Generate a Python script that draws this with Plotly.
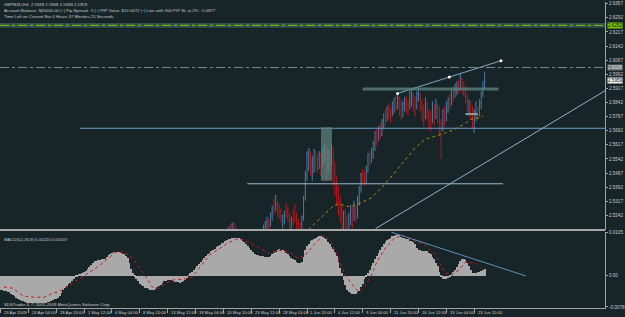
import plotly.graph_objects as go

BG = '#182528'
TXT = '#c8c8c8'
FONT = 'Liberation Sans'

# ---------------- data ----------------
bar_index = list(range(130, 279))
opens = [2.5040,2.5115,2.5170,2.5145,2.5195,2.5160,2.5135,2.5112,2.5070,2.5090,
         2.5060,2.5020,2.5050,2.5080,2.5050,2.5110,2.5130,2.5100,2.5080,2.5140,
         2.5110,2.5150,2.5160,2.5205,2.5220,2.5190,2.5250,2.5300,2.5270,2.5310,
         2.5260,2.5260,2.5190,2.5220,2.5300,2.5260,2.5240,2.5170,2.5260,2.5290,
         2.5230,2.5200,2.5150,2.5125,2.5230,2.5335,2.5460,2.5560,2.5580,2.5470,
         2.5530,2.5575,2.5520,2.5490,2.5560,2.5510,2.5570,2.5600,2.5485,2.5570,
         2.5510,2.5600,2.5420,2.5360,2.5380,2.5300,2.5280,2.5160,2.5260,2.5200,
         2.5140,2.5200,2.5280,2.5220,2.5285,2.5230,2.5310,2.5380,2.5480,2.5440,
         2.5420,2.5480,2.5570,2.5525,2.5560,2.5600,2.5690,2.5640,2.5720,2.5670,
         2.5720,2.5795,2.5745,2.5830,2.5790,2.5775,2.5800,2.5870,2.5815,2.5870,
         2.5800,2.5770,2.5810,2.5865,2.5830,2.5815,2.5840,2.5880,2.5820,2.5810,
         2.5860,2.5885,2.5810,2.5760,2.5760,2.5840,2.5760,2.5780,2.5740,2.5825,
         2.5760,2.5830,2.5760,2.5700,2.5700,2.5800,2.5745,2.5800,2.5870,2.5830,
         2.5915,2.5870,2.5900,2.5955,2.5915,2.5970,2.5920,2.5900,2.5850,2.5780,
         2.5840,2.5770,2.5690,2.5790,2.5815,2.5770,2.5840,2.5890,2.5948]
highs = [2.5109,2.5183,2.5193,2.5204,2.5209,2.5193,2.5172,2.5120,2.5100,2.5110,
         2.5080,2.5060,2.5090,2.5100,2.5120,2.5140,2.5145,2.5130,2.5150,2.5155,
         2.5160,2.5193,2.5214,2.5235,2.5225,2.5257,2.5294,2.5331,2.5352,2.5320,
         2.5304,2.5278,2.5246,2.5267,2.5309,2.5288,2.5257,2.5235,2.5272,2.5299,
         2.5257,2.5225,2.5204,2.5241,2.5346,2.5478,2.5584,2.5600,2.5584,2.5558,
         2.5595,2.5584,2.5568,2.5584,2.5573,2.5600,2.5621,2.5610,2.5595,2.5584,
         2.5621,2.5605,2.5531,2.5452,2.5399,2.5346,2.5294,2.5267,2.5278,2.5241,
         2.5257,2.5299,2.5288,2.5320,2.5294,2.5346,2.5399,2.5468,2.5489,2.5478,
         2.5505,2.5573,2.5584,2.5600,2.5637,2.5690,2.5700,2.5716,2.5732,2.5753,
         2.5785,2.5806,2.5822,2.5837,2.5816,2.5848,2.5869,2.5880,2.5895,2.5874,
         2.5859,2.5848,2.5869,2.5874,2.5859,2.5901,2.5911,2.5890,2.5874,2.5901,
         2.5917,2.5890,2.5859,2.5832,2.5869,2.5848,2.5806,2.5795,2.5848,2.5832,
         2.5859,2.5837,2.5822,2.5753,2.5806,2.5822,2.5848,2.5869,2.5890,2.5911,
         2.5927,2.5943,2.5954,2.5964,2.5996,2.5975,2.5954,2.5927,2.5890,2.5859,
         2.5848,2.5822,2.5806,2.5848,2.5822,2.5859,2.5901,2.5954,2.6006]
lows = [2.5030,2.5109,2.5119,2.5140,2.5151,2.5130,2.5109,2.5060,2.5040,2.5050,
        2.5010,2.5000,2.5030,2.5040,2.5040,2.5080,2.5090,2.5070,2.5075,2.5100,
        2.5090,2.5119,2.5151,2.5172,2.5162,2.5183,2.5214,2.5246,2.5267,2.5235,
        2.5225,2.5204,2.5172,2.5193,2.5225,2.5204,2.5172,2.5151,2.5188,2.5204,
        2.5162,2.5130,2.5109,2.5119,2.5214,2.5320,2.5426,2.5478,2.5452,2.5426,
        2.5468,2.5478,2.5468,2.5489,2.5452,2.5505,2.5521,2.5426,2.5478,2.5468,
        2.5505,2.5399,2.5346,2.5294,2.5241,2.5204,2.5167,2.5151,2.5140,2.5119,
        2.5130,2.5188,2.5172,2.5214,2.5204,2.5225,2.5294,2.5362,2.5410,2.5399,
        2.5415,2.5468,2.5505,2.5521,2.5542,2.5584,2.5610,2.5637,2.5647,2.5663,
        2.5700,2.5716,2.5742,2.5753,2.5732,2.5769,2.5785,2.5795,2.5806,2.5769,
        2.5753,2.5764,2.5795,2.5785,2.5774,2.5806,2.5822,2.5795,2.5769,2.5806,
        2.5848,2.5795,2.5742,2.5716,2.5753,2.5742,2.5705,2.5690,2.5732,2.5716,
        2.5753,2.5732,2.5663,2.5542,2.5690,2.5716,2.5742,2.5785,2.5806,2.5827,
        2.5848,2.5869,2.5880,2.5890,2.5911,2.5890,2.5874,2.5837,2.5795,2.5769,
        2.5753,2.5700,2.5679,2.5742,2.5753,2.5769,2.5806,2.5869,2.5911]
closes = [2.5100,2.5170,2.5130,2.5195,2.5160,2.5135,2.5112,2.5070,2.5090,2.5060,
          2.5020,2.5050,2.5080,2.5050,2.5110,2.5130,2.5100,2.5080,2.5140,2.5110,
          2.5150,2.5185,2.5205,2.5230,2.5175,2.5250,2.5285,2.5255,2.5345,2.5250,
          2.5230,2.5210,2.5240,2.5260,2.5240,2.5215,2.5180,2.5225,2.5200,2.5215,
          2.5170,2.5140,2.5115,2.5235,2.5340,2.5470,2.5570,2.5590,2.5480,2.5540,
          2.5585,2.5500,2.5480,2.5575,2.5470,2.5590,2.5615,2.5440,2.5580,2.5490,
          2.5610,2.5420,2.5360,2.5310,2.5250,2.5215,2.5175,2.5255,2.5150,2.5130,
          2.5245,2.5290,2.5190,2.5310,2.5215,2.5340,2.5390,2.5460,2.5420,2.5410,
          2.5500,2.5565,2.5515,2.5595,2.5630,2.5680,2.5625,2.5710,2.5660,2.5745,
          2.5780,2.5730,2.5815,2.5770,2.5745,2.5840,2.5860,2.5810,2.5890,2.5780,
          2.5760,2.5840,2.5860,2.5800,2.5780,2.5895,2.5905,2.5805,2.5775,2.5890,
          2.5910,2.5805,2.5750,2.5725,2.5860,2.5750,2.5710,2.5700,2.5840,2.5730,
          2.5850,2.5740,2.5680,2.5640,2.5795,2.5730,2.5840,2.5860,2.5815,2.5905,
          2.5860,2.5935,2.5950,2.5900,2.5985,2.5900,2.5880,2.5845,2.5800,2.5850,
          2.5760,2.5710,2.5795,2.5840,2.5760,2.5850,2.5895,2.5948,2.5959]

ma_index = [175, 178, 184, 190, 194, 200, 206, 213, 221, 227, 233, 238, 244, 250, 255, 261, 267, 270, 274, 277]
ma_price = [2.5140, 2.5177, 2.5230, 2.5283, 2.5304, 2.5288, 2.5304, 2.5336, 2.5410, 2.5478,
            2.5547, 2.5600, 2.5647, 2.5663, 2.5679, 2.5700, 2.5732, 2.5753, 2.5758, 2.5769]

# MACD main (histogram), in 1e-4 units, one per bar 0..278
macd_hist_e4 = [-34,-35,-37,-38,-39,-41,-45,-48,-50,-54,-56,-60,-62,-63,-64,-66,-67,-68,-68,-68,
                -68,-68,-68,-68,-67,-66,-66,-65,-64,-62,-60,-58,-56,-54,-49,-43,-36,-30,-26,-21,
                -17,-13,-9,-4,-1,2,5,7,9,12,17,22,27,31,35,37,38,39,40,41,
                41,46,50,54,56,57,58,58,57,55,54,52,49,44,32,17,7,-3,-9,-14,
                -20,-23,-26,-30,-31,-33,-34,-34,-34,-33,-29,-26,-22,-18,-13,-12,-11,-10,-11,-13,
                -15,-16,-16,-17,-15,-13,-10,-5,1,6,10,13,18,23,28,33,38,43,48,52,
                56,60,63,66,70,73,76,79,81,84,87,89,91,92,92,93,93,93,90,86,
                83,78,73,68,62,57,53,51,50,48,48,47,46,46,46,49,52,56,59,62,
                66,64,62,60,56,52,48,44,41,38,34,31,31,33,46,62,72,78,84,87,
                90,92,94,96,98,95,92,89,83,78,71,65,58,48,33,20,7,-10,-23,-35,
                -39,-43,-44,-44,-44,-41,-37,-28,-20,-9,-1,7,15,23,32,40,49,56,64,70,
                77,83,88,91,93,96,98,99,100,99,95,92,92,90,89,86,84,82,78,68,
                63,62,61,61,61,60,56,53,46,40,32,23,10,-2,-8,-9,-8,-5,-1,3,
                9,14,21,29,35,40,41,38,31,23,13,7,7,7,8,9,12,15,17]

signal_index = [2, 7, 13, 19, 25, 30, 34, 40, 46, 51, 57, 63, 66, 71, 76, 80, 84, 87, 91, 95,
                99, 105, 110, 114, 120, 126, 131, 137, 143, 149, 154, 160, 166, 171, 175, 181, 186, 190, 194, 198,
                203, 206, 209, 213, 216, 221, 226, 231, 237, 244, 250, 255, 259, 263, 267, 273, 276]
signal_e4 = [-29, -32, -51, -54, -54, -44, -40, -24, -7, 7, 24, 44, 56, 56, 41, 17, -7, -29, -32, -20,
             -12, -10, -5, 17, 49, 66, 80, 90, 80, 66, 54, 61, 56, 41, 49, 80, 98, 80, 41, 0,
             -29, -41, -29, 0, 32, 66, 90, 98, 85, 73, 49, 7, 0, 12, 32, 29, 17]

time_tick_index = [0, 16, 32, 48, 64, 80, 96, 112, 128, 144, 160, 176, 192, 208, 224, 240, 256, 272]
time_tick_text = ["23 Apr 2009", "24 Apr 04:00", "28 Apr 20:00", "1 May 12:00", "6 May 04:00",
                  "8 May 20:00", "13 May 12:00", "18 May 04:00", "20 May 20:00", "25 May 12:00",
                  "28 May 04:00", "1 Jun 20:00", "4 Jun 12:00", "9 Jun 04:00", "11 Jun 20:00",
                  "16 Jun 12:00", "19 Jun 04:00", "23 Jun 20:00"]

price_ticks = [2.6367, 2.6292, 2.6217, 2.6142, 2.6067, 2.5992, 2.5917, 2.5842, 2.5767,
               2.5692, 2.5617, 2.5542, 2.5467, 2.5392, 2.5317, 2.5242]
macd_ticks = [0.0105, 0.0, -0.0078]
macd_tick_text = ["0.0105", "0.00", "-0.0078"]

# drawn objects (price levels / trend lines)
green_level = 2.6252
gray_level = 2.6028
bid_price = 2.5959
hline_a = (45.7, 2.5705)
hline_b = (141.7, 288.6, 2.5410)
zone_h = (208, 286, 2.5906, 2.5922)
zone_v = (184, 190.3, 2.5426, 2.5711)
upper_trend = [(228, 2.5890), (257.7, 2.5977), (287.4, 2.6064)]
lower_trend = [(215.4, 2.5172), (347.4, 2.5906)]
macd_trend = [(224.6, 0.0105), (301.7, -0.0002)]

# ---------------- figure ----------------
H_PLOT = 308.0
W_PLOT = 608.0
def py(p):
    return 1 - p / H_PLOT

fig = go.Figure()
fig.add_trace(go.Ohlc(x=bar_index, open=opens, high=highs, low=lows, close=closes,
                      xaxis='x', yaxis='y', tickwidth=0.35,
                      increasing=dict(line=dict(color='#4a7aa3', width=1)),
                      decreasing=dict(line=dict(color='#b8171d', width=1)),
                      showlegend=False, hoverinfo='skip'))
fig.add_trace(go.Scatter(x=ma_index, y=ma_price, mode='lines', xaxis='x', yaxis='y',
                         line=dict(color='#b8860b', width=1, dash='dot'), showlegend=False, hoverinfo='skip'))
fig.add_trace(go.Scatter(x=[p[0] for p in upper_trend], y=[p[1] for p in upper_trend], mode='lines+markers',
                         xaxis='x', yaxis='y', line=dict(color='#7fa6c8', width=1),
                         marker=dict(color='white', size=3), showlegend=False, hoverinfo='skip'))

fig.add_trace(go.Bar(x=list(range(len(macd_hist_e4))), y=[v * 1e-4 for v in macd_hist_e4],
                     xaxis='x2', yaxis='y2', width=0.45, marker=dict(color='#a9a9a9', line=dict(width=0)),
                     showlegend=False, hoverinfo='skip'))
fig.add_trace(go.Scatter(x=signal_index, y=[v * 1e-4 for v in signal_e4], mode='lines', xaxis='x2', yaxis='y2',
                         line=dict(color='#c8181e', width=1, dash='dot'), showlegend=False, hoverinfo='skip'))

shapes = []
shapes.append(dict(type='rect', xref='paper', yref='y', x0=0, x1=1, y0=green_level - 0.0013, y1=green_level + 0.0013,
                   fillcolor='#33504f', line=dict(width=0), layer='below'))
shapes.append(dict(type='line', xref='paper', yref='y', x0=0, x1=1, y0=green_level, y1=green_level,
                   line=dict(color='#7cc400', width=1, dash='dashdot')))
shapes.append(dict(type='line', xref='paper', yref='y', x0=0, x1=1, y0=gray_level, y1=gray_level,
                   line=dict(color='#7a8888', width=1, dash='dashdot')))
shapes.append(dict(type='line', xref='x', yref='y', x0=hline_a[0], x1=347.1, y0=hline_a[1], y1=hline_a[1],
                   line=dict(color='#6b9cc6', width=1)))
shapes.append(dict(type='line', xref='x', yref='y', x0=hline_b[0], x1=hline_b[1], y0=hline_b[2], y1=hline_b[2],
                   line=dict(color='#9ab8d0', width=1)))
shapes.append(dict(type='rect', xref='x', yref='y', x0=zone_h[0], x1=zone_h[1], y0=zone_h[2], y1=zone_h[3],
                   fillcolor='rgba(95,135,130,0.75)', line=dict(width=0)))
shapes.append(dict(type='rect', xref='x', yref='y', x0=zone_v[0], x1=zone_v[1], y0=zone_v[2], y1=zone_v[3],
                   fillcolor='rgba(95,135,130,0.7)', line=dict(width=0)))
shapes.append(dict(type='line', xref='x', yref='y', x0=267, x1=274, y0=2.5781, y1=2.5781,
                   line=dict(color='#8a9a9a', width=2)))
shapes.append(dict(type='line', xref='x', yref='y', x0=lower_trend[0][0], x1=lower_trend[1][0],
                   y0=lower_trend[0][1], y1=lower_trend[1][1], line=dict(color='#8fb0cc', width=1)))
shapes.append(dict(type='line', xref='x2', yref='y2', x0=macd_trend[0][0], x1=macd_trend[1][0],
                   y0=macd_trend[0][1], y1=macd_trend[1][1], line=dict(color='#5f8fb8', width=1)))
shapes.append(dict(type='rect', xref='paper', yref='paper', x0=0, x1=1, y0=py(230.5), y1=py(228.6),
                   fillcolor='#a8a8a8', line=dict(width=0)))

ann = []
def txt(x, y, s, size=4.3, color=TXT, xanchor='left', bg=None, xref='paper'):
    d = dict(x=x, y=y, xref=xref, yref='paper', text=s, showarrow=False, xanchor=xanchor, yanchor='middle',
             font=dict(family=FONT, size=size, color=color))
    if bg:
        d.update(bgcolor=bg, borderpad=0)
    ann.append(d)

txt(2 / W_PLOT, py(3), "GBPNZD,H4  2.5948 2.5968 2.5948 2.5959")
txt(2 / W_PLOT, py(9), "Account Balance: $40000.00 |~| Pip Spread: :5 |~| PIP Value: $10.0472 |~| Lots with 300 PIP SL at 2% : 0.0877")
txt(2 / W_PLOT, py(15), "Time Left on Current Bar 0 Hours 37 Minutes 21 Seconds")
txt(2 / W_PLOT, py(239), "MACD(12,26,9) 0.00220 0.00137")
txt(2 / W_PLOT, py(304), "SDSTrader 4, © 2001-2009 MetaQuotes Software Corp.")
for i, s in zip(time_tick_index, time_tick_text):
    txt(i + 0.8, py(312.5), s, size=4.2, xref='x2')

def ylab(price):
    return 0.2565 + (price - 2.5167) / (2.6376 - 2.5167) * (1 - 0.2565)
txt(1.003, ylab(green_level), "%.4f" % green_level, size=4.6, color='#10200a', bg='#7cc400')
txt(1.003, ylab(gray_level), "%.4f" % gray_level, size=4.6, color='#e0e0e0', bg='#6e7878')
txt(1.003, ylab(bid_price), "%.4f" % bid_price, size=4.6, color='#101010', bg='#f0f0f0')

fig.update_layout(
    width=625, height=317, margin=dict(l=0, r=17, t=0, b=9),
    paper_bgcolor=BG, plot_bgcolor=BG, showlegend=False, bargap=0,
    shapes=shapes, annotations=ann,
    xaxis=dict(domain=[0, 1], range=[-0.3, 347.1], anchor='y', showticklabels=False, showgrid=False,
               zeroline=False, rangeslider=dict(visible=False), showline=False),
    xaxis2=dict(domain=[0, 1], range=[-0.3, 347.1], anchor='y2', matches='x', showticklabels=False,
                showgrid=False, zeroline=False, ticks='outside', tickvals=time_tick_index, ticklen=4,
                tickcolor='#a0a0a0', showline=True, linecolor='#a0a0a0', linewidth=1),
    yaxis=dict(domain=[0.2565, 1], range=[2.5167, 2.6376], anchor='x', side='right', showgrid=False,
               zeroline=False, tickvals=price_ticks, ticktext=["%.4f" % v for v in price_ticks],
               ticks='outside', ticklen=2, tickcolor='#a0a0a0', tickfont=dict(family=FONT, size=4.6, color=TXT),
               showline=True, linecolor='#a0a0a0', linewidth=1),
    yaxis2=dict(domain=[0, 0.25], range=[-0.00805, 0.0107], anchor='x2', side='right', showgrid=False,
                zeroline=False, tickvals=macd_ticks, ticktext=macd_tick_text, ticks='outside', ticklen=2,
                tickcolor='#a0a0a0', tickfont=dict(family=FONT, size=4.6, color=TXT),
                showline=True, linecolor='#a0a0a0', linewidth=1),
)

fig.write_html("out.html")
